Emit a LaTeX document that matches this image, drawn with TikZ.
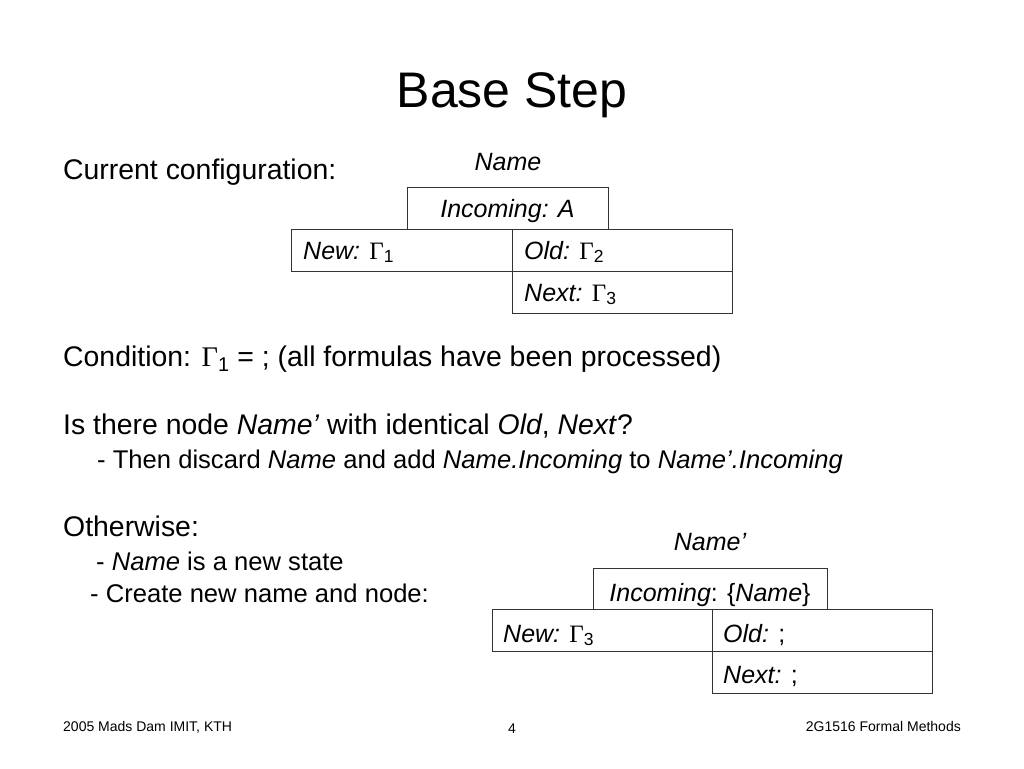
\documentclass[tikz,border=0pt]{standalone}
\usepackage{fontspec}
\setmainfont{Liberation Sans}
\newfontfamily\serifG{Liberation Serif}
\newcommand{\Gam}[1]{{\serifG Γ}\textsubscript{#1}}
\tikzset{
  cell/.style={draw=black!80, line width=1.1pt, rectangle, inner sep=0pt, anchor=north west},
  lab/.style={inner sep=0pt, font=\fontsize{25}{30}\selectfont},
  body/.style={inner sep=0pt, anchor=base west, font=\fontsize{28.4}{34}\selectfont},
  sub/.style={inner sep=0pt, anchor=base west, font=\fontsize{25.6}{30}\selectfont},
  foot/.style={inner sep=0pt, font=\fontsize{14}{17}\selectfont}
}
\begin{document}
\begin{tikzpicture}[x=1pt,y=-1pt]
\useasboundingbox[fill=white] (0,0) rectangle (1024,768);
% title
\node[inner sep=0pt, anchor=base, font=\fontsize{50}{60}\selectfont] (title) at (512,107) {Base Step};
% body text
\node[body] (cur) at (63,179) {Current configuration:};
\node[body] (cond) at (63,366) {Condition: \Gam{1} = ; (all formulas have been processed)};
\node[body] (is) at (63,434) {Is there node \textit{Name’} with identical \textit{Old}, \textit{Next}?};
\node[sub] (then) at (97,468) {- Then discard \textit{Name} and add \textit{Name.Incoming} to \textit{Name’.Incoming}};
\node[body] (oth) at (63,536) {Otherwise:};
\node[sub] (newst) at (96,570) {- \textit{Name} is a new state};
\node[sub] (create) at (90,602) {- Create new name and node:};
% first configuration
\node[lab, anchor=base] (nm1) at (508,170) {\itshape Name};
\node[cell, minimum width=201pt, minimum height=42pt] (inc1) at (407,187) {};
\node[cell, minimum width=221pt, minimum height=42pt] (new1) at (291,229) {};
\node[cell, minimum width=220pt, minimum height=42pt] (old1) at (512,229) {};
\node[cell, minimum width=220pt, minimum height=42pt] (next1) at (512,271) {};
\node[lab, anchor=base] (tinc1) at (507.5,217) {\itshape Incoming: A};
\node[lab, anchor=base west] (tnew1) at (303,259) {\itshape New: \upshape\Gam{1}};
\node[lab, anchor=base west] (told1) at (524,259) {\itshape Old: \upshape\Gam{2}};
\node[lab, anchor=base west] (tnext1) at (524,301) {\itshape Next: \upshape\Gam{3}};
% second configuration
\node[lab, anchor=base] (nm2) at (710,550) {\itshape Name’};
\node[cell, minimum width=234pt, minimum height=41pt] (inc2) at (593,568) {};
\node[cell, minimum width=220pt, minimum height=42pt] (new2) at (492,609) {};
\node[cell, minimum width=220pt, minimum height=42pt] (old2) at (712,609) {};
\node[cell, minimum width=220pt, minimum height=42pt] (next2) at (712,651) {};
\node[lab, anchor=base] (tinc2) at (710,601) {\textit{Incoming}: \{\textit{Name}\}};
\node[lab, anchor=base west] (tnew2) at (503,642) {\itshape New: \upshape\Gam{3}};
\node[lab, anchor=base west] (told2) at (723,642) {\itshape Old: \upshape;};
\node[lab, anchor=base west] (tnext2) at (723,683) {\itshape Next: \upshape;};
% footer
\node[foot, anchor=base west] (fl) at (63,731) {2005 Mads Dam IMIT, KTH};
\node[foot, anchor=base] (fc) at (512,733) {4};
\node[foot, anchor=base east] (fr) at (961,731) {2G1516 Formal Methods};
\end{tikzpicture}
\end{document}
